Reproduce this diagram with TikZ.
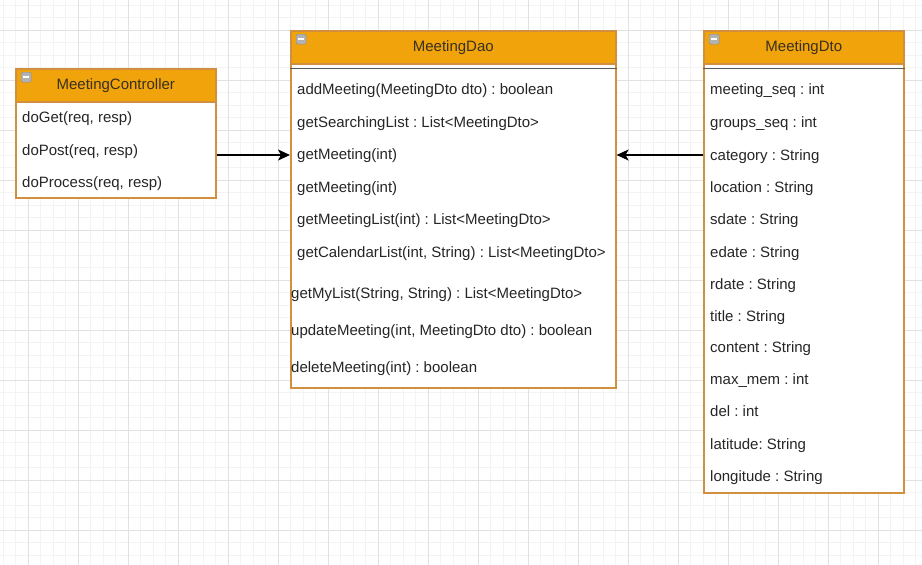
\documentclass[tikz,border=0pt]{standalone}
\usepackage{fontspec}
\setmainfont{Liberation Sans}
\usepackage{xcolor}
\usetikzlibrary{arrows.meta,positioning}
\frenchspacing

\definecolor{hdrfill}{HTML}{F0A30A}
\definecolor{hdrline}{HTML}{D09040}
\definecolor{hdrtext}{HTML}{3A3020}
\definecolor{gridminor}{HTML}{F3F3F3}
\definecolor{gridmajor}{HTML}{E2E2E2}

\begin{document}
\begin{tikzpicture}[
    x=1pt, y=-1pt,
    head/.style={rectangle, draw=hdrline, fill=hdrfill, line width=1.6pt, minimum height=33pt, inner sep=0pt, anchor=north west, text=hdrtext, font=\fontsize{15}{18}\selectfont},
    body/.style={rectangle, draw=hdrline, fill=white, line width=1.6pt, inner sep=0pt, anchor=north west},
    row/.style={anchor=west, inner sep=0pt, text height=11pt, text depth=3pt, text=black!85, font=\fontsize{15}{18}\selectfont},
    icon/.style={rectangle, rounded corners=1.5pt, draw=black!45, fill=black!30, minimum width=10pt, minimum height=10pt, inner sep=0pt, anchor=north west,
        path picture={\draw[white, line width=1.8pt] ([xshift=2pt]path picture bounding box.west) -- ([xshift=-2pt]path picture bounding box.east);}},
    sep/.style={draw=black!65, line width=1.6pt},
    arrow/.style={-{Stealth[length=12pt, width=11pt, inset=3pt]}, line width=1.4pt}
]
    \useasboundingbox (0,0) rectangle (922,565);
    \fill[white] (0,0) rectangle (922,565);
    \foreach \x in {3,15.5,...,922} \draw[gridminor, line width=1pt] (\x,0) -- (\x,565);
    \foreach \y in {5,17.5,...,565} \draw[gridminor, line width=1pt] (0,\y) -- (922,\y);
    \foreach \x in {28,78,...,922} \draw[gridmajor, line width=1pt] (\x,0) -- (\x,565);
    \foreach \y in {30,80,...,565} \draw[gridmajor, line width=1pt] (0,\y) -- (922,\y);

    \node[body, minimum width=200pt, minimum height=129pt] (ctrlbody) at (15,68) {};
    \node[head, minimum width=200pt] (ctrlhead) at (15,68) {MeetingController};
    \node[icon] (ctrlicon) at (21,72) {};
    \foreach \y/\t [count=\i] in {118/{doGet(req, resp)}, 151/{doPost(req, resp)}, 183/{doProcess(req, resp)}}
        \node[row] (ctrl\i) at (22,\y) {\t};

    \node[body, minimum width=325pt, minimum height=357pt] (daobody) at (290,30) {};
    \node[head, minimum width=325pt] (daohead) at (290,30) {MeetingDao};
    \node[icon] (daoicon) at (296,34) {};
    \draw[sep] ([yshift=-4pt]daohead.south west) -- ([yshift=-4pt]daohead.south east);
    \foreach \y/\t [count=\i] in {90/{addMeeting(MeetingDto dto) : boolean}, 123/{getSearchingList : List<MeetingDto>},
        155/{getMeeting(int)}, 188/{getMeeting(int)}, 220/{getMeetingList(int) : List<MeetingDto>},
        253/{getCalendarList(int, String) : List<MeetingDto>}}
        \node[row] (dao\i) at (297,\y) {\t};
    \foreach \y/\t [count=\i from 7] in {294/{getMyList(String, String) : List<MeetingDto>},
        331/{updateMeeting(int, MeetingDto dto) : boolean}, 368/{deleteMeeting(int) : boolean}}
        \node[row] (dao\i) at (291,\y) {\t};

    \node[body, minimum width=200pt, minimum height=462pt] (dtobody) at (703,30) {};
    \node[head, minimum width=200pt] (dtohead) at (703,30) {MeetingDto};
    \node[icon] (dtoicon) at (709,34) {};
    \draw[sep] ([yshift=-4pt]dtohead.south west) -- ([yshift=-4pt]dtohead.south east);
    \foreach \y/\t [count=\i] in {90/{meeting\_seq : int}, 123/{groups\_seq : int}, 156/{category : String},
        188/{location : String}, 220/{sdate : String}, 253/{edate : String}, 285/{rdate : String},
        317/{title : String}, 348/{content : String}, 380/{max\_mem : int}, 412/{del : int},
        445/{latitude: String}, 477/{longitude : String}}
        \node[row] (dto\i) at (710,\y) {\t};

    \draw[arrow] (ctrlbody.east |- dao3.west) -- (daobody.west |- dao3.west);
    \draw[arrow] (dtobody.west |- dao3.west) -- (daobody.east |- dao3.west);
\end{tikzpicture}
\end{document}
